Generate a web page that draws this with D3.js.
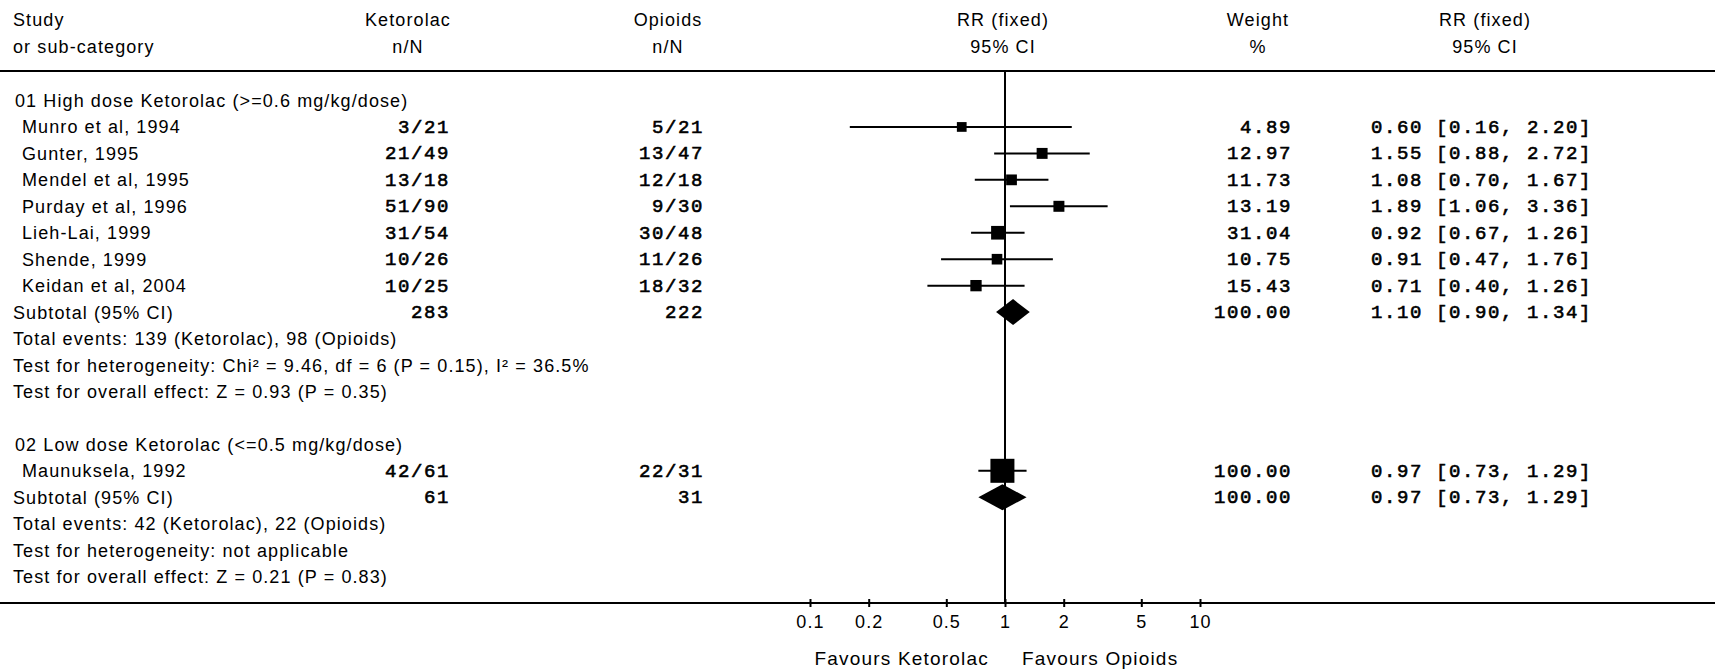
<!DOCTYPE html>
<html>
<head>
<meta charset="utf-8">
<script src="https://cdn.jsdelivr.net/npm/d3@7"></script>
<style>
  body { margin: 0; background: #fff; }
  .sans { font-family: "Liberation Sans", Arial, sans-serif; font-size: 18px; letter-spacing: 1.1px; fill: #000; }
  .mono { font-family: "Liberation Mono", "Courier New", monospace; font-size: 19px; letter-spacing: 1.6px; fill: #000; stroke: #000; stroke-width: 0.6px; }
</style>
</head>
<body>
<div id="forest"></div>
<script>
// data
var studies1 = ["Munro et al, 1994", "Gunter, 1995", "Mendel et al, 1995", "Purday et al, 1996", "Lieh-Lai, 1999", "Shende, 1999", "Keidan et al, 2004"];
var ketorolac1 = ["3/21", "21/49", "13/18", "51/90", "31/54", "10/26", "10/25"];
var opioids1 = ["5/21", "13/47", "12/18", "9/30", "30/48", "11/26", "18/32"];
var weights1 = [4.89, 12.97, 11.73, 13.19, 31.04, 10.75, 15.43];
var rr1 = [0.60, 1.55, 1.08, 1.89, 0.92, 0.91, 0.71];
var lo1 = [0.16, 0.88, 0.70, 1.06, 0.67, 0.47, 0.40];
var hi1 = [2.20, 2.72, 1.67, 3.36, 1.26, 1.76, 1.26];

var studies2 = ["Maunuksela, 1992"];
var ketorolac2 = ["42/61"];
var opioids2 = ["22/31"];
var weights2 = [100.00];
var rr2 = [0.97];
var lo2 = [0.73];
var hi2 = [1.29];

// subtotal: [ketorolac N, opioids N, weight, rr, lo, hi]
var subtotal1 = [283, 222, 100.00, 1.10, 0.90, 1.34];
var subtotal2 = [61, 31, 100.00, 0.97, 0.73, 1.29];

var groupTitles = ["01 High dose Ketorolac (>=0.6 mg/kg/dose)", "02 Low dose Ketorolac (<=0.5 mg/kg/dose)"];
var groupNotes1 = ["Total events: 139 (Ketorolac), 98 (Opioids)",
  "Test for heterogeneity: Chi\u00b2 = 9.46, df = 6 (P = 0.15), I\u00b2 = 36.5%",
  "Test for overall effect: Z = 0.93 (P = 0.35)"];
var groupNotes2 = ["Total events: 42 (Ketorolac), 22 (Opioids)",
  "Test for heterogeneity: not applicable",
  "Test for overall effect: Z = 0.21 (P = 0.83)"];

var tickValues = [0.1, 0.2, 0.5, 1, 2, 5, 10];
var favourLabels = ["Favours Ketorolac", "Favours Opioids"];

// Step 1: set up the chart
var svgWidth = 1715;
var svgHeight = 671;

var svg = d3.select("#forest")
  .append("svg")
  .attr("width", svgWidth)
  .attr("height", svgHeight);

// column positions
var col = {
  study: 13, studyIndent: 22, groupIndent: 15,
  ketHead: 408, ketRight: 450,
  opiHead: 668, opiRight: 704,
  plotHead: 1003,
  wHead: 1258, wRight: 1292,
  ciHead: 1485, ciLeft: 1371
};

// scales
var xScale = d3.scaleLog().domain([0.1, 10]).range([810, 1200]);
var yLine = d3.scaleLinear().domain([0, 18]).range([100.5, 576.6]);
var boxSize = d3.scaleLinear().domain([0, 100]).range([9, 24]);
var axisY = 603;
var fmt2 = d3.format(".2f");

// Step 2: header
var head = [
  ["Study", "or sub-category", col.study, "start"],
  ["Ketorolac", "n/N", col.ketHead, "middle"],
  ["Opioids", "n/N", col.opiHead, "middle"],
  ["RR (fixed)", "95% CI", col.plotHead, "middle"],
  ["Weight", "%", col.wHead, "middle"],
  ["RR (fixed)", "95% CI", col.ciHead, "middle"]
];
head.forEach(function(h) {
  svg.append("text").attr("class", "sans").attr("x", h[2]).attr("y", 26)
    .attr("text-anchor", h[3]).text(h[0]);
  svg.append("text").attr("class", "sans").attr("x", h[2]).attr("y", 53)
    .attr("text-anchor", h[3]).text(h[1]);
});

svg.append("line")
  .attr("x1", 0).attr("x2", svgWidth)
  .attr("y1", 71).attr("y2", 71)
  .attr("stroke", "#000").attr("stroke-width", 2);

// Step 3: build rows
var rows = [];
function addGroup(start, title, studies, ket, opi, w, rr, lo, hi, sub, notes) {
  var i = start;
  rows.push({ line: i++, type: "title", label: title });
  studies.forEach(function(s, k) {
    rows.push({ line: i++, type: "study", label: s, ket: ket[k], opi: opi[k], w: w[k], rr: rr[k], lo: lo[k], hi: hi[k] });
  });
  rows.push({ line: i++, type: "subtotal", label: "Subtotal (95% CI)", ket: String(sub[0]), opi: String(sub[1]), w: sub[2], rr: sub[3], lo: sub[4], hi: sub[5] });
  notes.forEach(function(n) {
    rows.push({ line: i++, type: "note", label: n });
  });
  return i;
}
var next = addGroup(0, groupTitles[0], studies1, ketorolac1, opioids1, weights1, rr1, lo1, hi1, subtotal1, groupNotes1);
addGroup(next + 1, groupTitles[1], studies2, ketorolac2, opioids2, weights2, rr2, lo2, hi2, subtotal2, groupNotes2);

// labels
svg.selectAll(".rowlabel")
  .data(rows)
  .enter()
  .append("text")
  .attr("class", "sans rowlabel")
  .attr("x", d => d.type == "study" ? col.studyIndent : (d.type == "title" ? col.groupIndent : col.study))
  .attr("y", d => yLine(d.line) + 6.5)
  .text(d => d.label);

var dataRows = rows.filter(d => d.type == "study" || d.type == "subtotal");

svg.selectAll(".ket")
  .data(dataRows).enter().append("text")
  .attr("class", "mono ket")
  .attr("x", col.ketRight).attr("y", d => yLine(d.line) + 6)
  .attr("text-anchor", "end")
  .text(d => d.ket);

svg.selectAll(".opi")
  .data(dataRows).enter().append("text")
  .attr("class", "mono opi")
  .attr("x", col.opiRight).attr("y", d => yLine(d.line) + 6)
  .attr("text-anchor", "end")
  .text(d => d.opi);

svg.selectAll(".wt")
  .data(dataRows).enter().append("text")
  .attr("class", "mono wt")
  .attr("x", col.wRight).attr("y", d => yLine(d.line) + 6)
  .attr("text-anchor", "end")
  .text(d => fmt2(d.w));

svg.selectAll(".ci")
  .data(dataRows).enter().append("text")
  .attr("class", "mono ci")
  .attr("x", col.ciLeft).attr("y", d => yLine(d.line) + 6)
  .text(d => fmt2(d.rr) + " [" + fmt2(d.lo) + ", " + fmt2(d.hi) + "]");

// Step 4: the plot
// no-effect line
svg.append("line")
  .attr("x1", xScale(1)).attr("x2", xScale(1))
  .attr("y1", 71).attr("y2", axisY)
  .attr("stroke", "#000").attr("stroke-width", 2);

var studyRows = rows.filter(d => d.type == "study");

svg.selectAll(".cil")
  .data(studyRows).enter().append("line")
  .attr("x1", d => xScale(d.lo)).attr("x2", d => xScale(d.hi))
  .attr("y1", d => yLine(d.line)).attr("y2", d => yLine(d.line))
  .attr("stroke", "#000").attr("stroke-width", 2);

svg.selectAll(".box")
  .data(studyRows).enter().append("rect")
  .attr("x", d => xScale(d.rr) - boxSize(d.w) / 2)
  .attr("y", d => yLine(d.line) - boxSize(d.w) / 2)
  .attr("width", d => boxSize(d.w))
  .attr("height", d => boxSize(d.w))
  .attr("fill", "#000");

var diamondH = 13;
svg.selectAll(".diamond")
  .data(rows.filter(d => d.type == "subtotal")).enter().append("path")
  .attr("d", function(d) {
    var y = yLine(d.line);
    return "M" + xScale(d.lo) + "," + y +
      "L" + xScale(d.rr) + "," + (y - diamondH) +
      "L" + xScale(d.hi) + "," + y +
      "L" + xScale(d.rr) + "," + (y + diamondH) + "Z";
  })
  .attr("fill", "#000");

// Step 5: axis
svg.append("line")
  .attr("x1", 0).attr("x2", svgWidth)
  .attr("y1", axisY).attr("y2", axisY)
  .attr("stroke", "#000").attr("stroke-width", 2);

var bottomAxis = d3.axisBottom(xScale)
  .tickValues(tickValues)
  .tickFormat(d => String(d))
  .tickSize(4)
  .tickPadding(8);

var axisG = svg.append("g")
  .attr("transform", `translate(0, ${axisY})`)
  .call(bottomAxis);
axisG.select(".domain").remove();
axisG.selectAll(".tick line").attr("y1", -4).attr("stroke-width", 2);
axisG.selectAll(".tick text")
  .attr("class", "sans")
  .attr("fill", "#000")
  .style("font-size", "18px");

svg.append("text").attr("class", "sans")
  .attr("x", 989).attr("y", 665)
  .attr("text-anchor", "end")
  .style("font-size", "19px").style("letter-spacing", "1.2px")
  .text(favourLabels[0]);
svg.append("text").attr("class", "sans")
  .attr("x", 1022).attr("y", 665)
  .style("font-size", "19px").style("letter-spacing", "1.2px")
  .text(favourLabels[1]);
</script>
</body>
</html>
